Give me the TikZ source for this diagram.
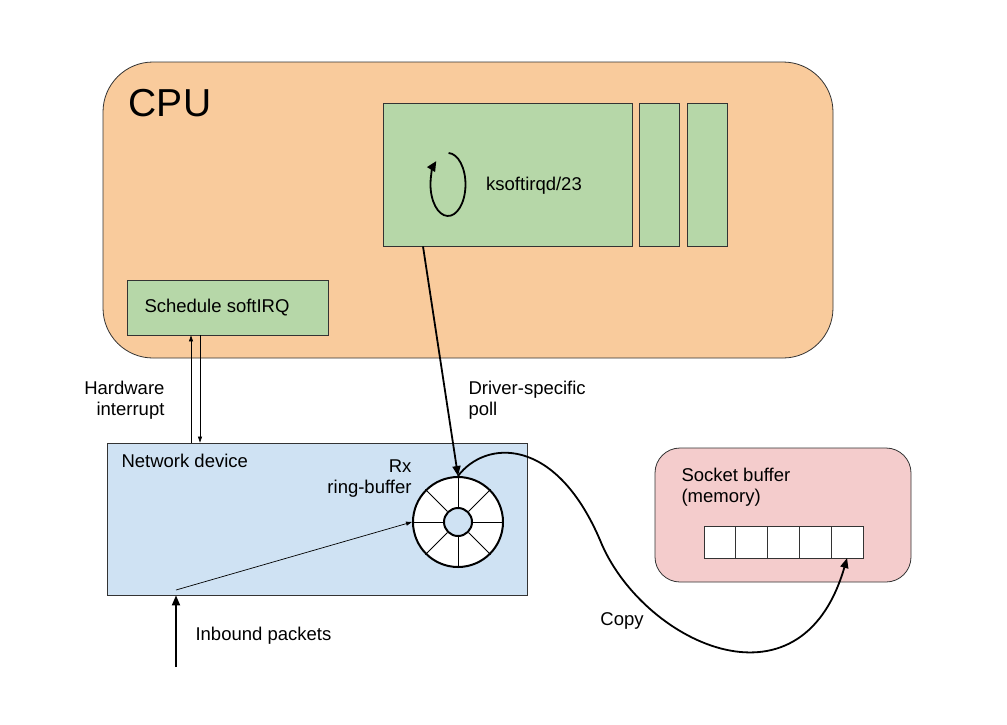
\documentclass[tikz,border=0pt]{standalone}
\usepackage{fontspec}
\setmainfont{Liberation Sans}
\usepackage{tikz}
\usetikzlibrary{positioning,arrows.meta,calc}
\definecolor{cpuorange}{HTML}{F9CB9C}
\definecolor{taskgreen}{HTML}{B6D7A8}
\definecolor{devblue}{HTML}{CFE2F3}
\definecolor{mempink}{HTML}{F4CCCC}
\definecolor{edge}{HTML}{333333}

\begin{document}
\begin{tikzpicture}[x=1pt,y=-1pt,
    every node/.style={font=\fontsize{18.5}{21}\selectfont},
    panel/.style={draw=edge,line width=0.8pt,inner sep=0pt},
    slot/.style={panel,fill=taskgreen},
    cell/.style={panel,fill=white,minimum width=31.8,minimum height=32,outer sep=0pt},
    thinarrow/.style={line width=0.7pt,-{Triangle[length=6pt,width=4pt]}},
    bigarrow/.style={line width=1.8pt,-{Triangle[length=10pt,width=8pt]}}]
    \useasboundingbox (0,0) rectangle (1007,724);
    % CPU
    \node[panel,fill=cpuorange,rounded corners=50,minimum width=730,minimum height=296] (cpu) at (468,210) {};
    \node[font=\fontsize{39}{44}\selectfont] (cpulbl) at (170,103) {CPU};
    \node[slot,minimum width=249,minimum height=143] (ksoft) at (507.5,174.5) {};
    \node[slot,minimum width=40,minimum height=143] (slotA) at (659,174.5) {};
    \node[slot,minimum width=40,minimum height=143] (slotB) at (707,174.5) {};
    \node (ksoftlbl) at (534,186) {ksoftirqd/23};
    \draw[line width=1.8pt,-{Triangle[length=10pt,width=9pt]}] (448.6,153) arc[start angle=-88,end angle=228,x radius=17.5,y radius=31.5];
    \node[slot,minimum width=201,minimum height=55] (sched) at (227.5,307.5) {};
    \node (schedlbl) at (217,308) {Schedule softIRQ};
    % network device
    \node[panel,fill=devblue,minimum width=420,minimum height=152] (netdev) at (317,519) {};
    \node[anchor=west] (netlbl) at (118,461) {Network device};
    \node[anchor=east,align=right] (rxlbl) at (415,479) {Rx\\ring-buffer};
    \node[circle,draw=black,line width=2pt,fill=white,minimum size=90] (ring) at (458,522) {};
    \node[circle,draw=black,line width=2pt,fill=devblue,minimum size=28] (hub) at (458,522) {};
    \foreach \a in {0,45,...,315}
      \draw[line width=0.8pt] (hub.\a) -- (ring.\a);
    % socket buffer
    \node[panel,fill=mempink,rounded corners=25,minimum width=256,minimum height=134] (sock) at (783,515) {};
    \node[anchor=west,align=left] (socklbl) at (678,487) {Socket buffer\\(memory)};
    \node[cell] (c1) at (719.9,542) {};
    \node[cell,right=0pt of c1] (c2) {};
    \node[cell,right=0pt of c2] (c3) {};
    \node[cell,right=0pt of c3] (c4) {};
    \node[cell,right=0pt of c4] (c5) {};
    % connectors
    \coordinate (hwup) at (191,0);
    \coordinate (hwdown) at (200,0);
    \draw[thinarrow] (netdev.north -| hwup) -- (sched.south -| hwup);
    \draw[thinarrow] (sched.south -| hwdown) -- (netdev.north -| hwdown);
    \node[anchor=east,align=right] (hwlbl) at (168,400) {Hardware\\interrupt};
    \coordinate (pollsrc) at (423,0);
    \draw[bigarrow] (ksoft.south -| pollsrc) -- (ring.north);
    \node[anchor=west,align=left] (polllbl) at (465,400) {Driver-specific\\poll};
    \coordinate (wire) at (176,667);
    \coordinate (entry) at (176,590);
    \draw[bigarrow] (wire) -- (netdev.south -| wire);
    \draw[thinarrow] (entry) -- (ring.west);
    \node[anchor=west] (inlbl) at (192,636) {Inbound packets};
    \draw[bigarrow] (ring.north) .. controls (485,440) and (555,435) .. (600,540)
      .. controls (640,640) and (800,720) .. (c5.south);
    \node (copylbl) at (622,621) {Copy};
\end{tikzpicture}
\end{document}
